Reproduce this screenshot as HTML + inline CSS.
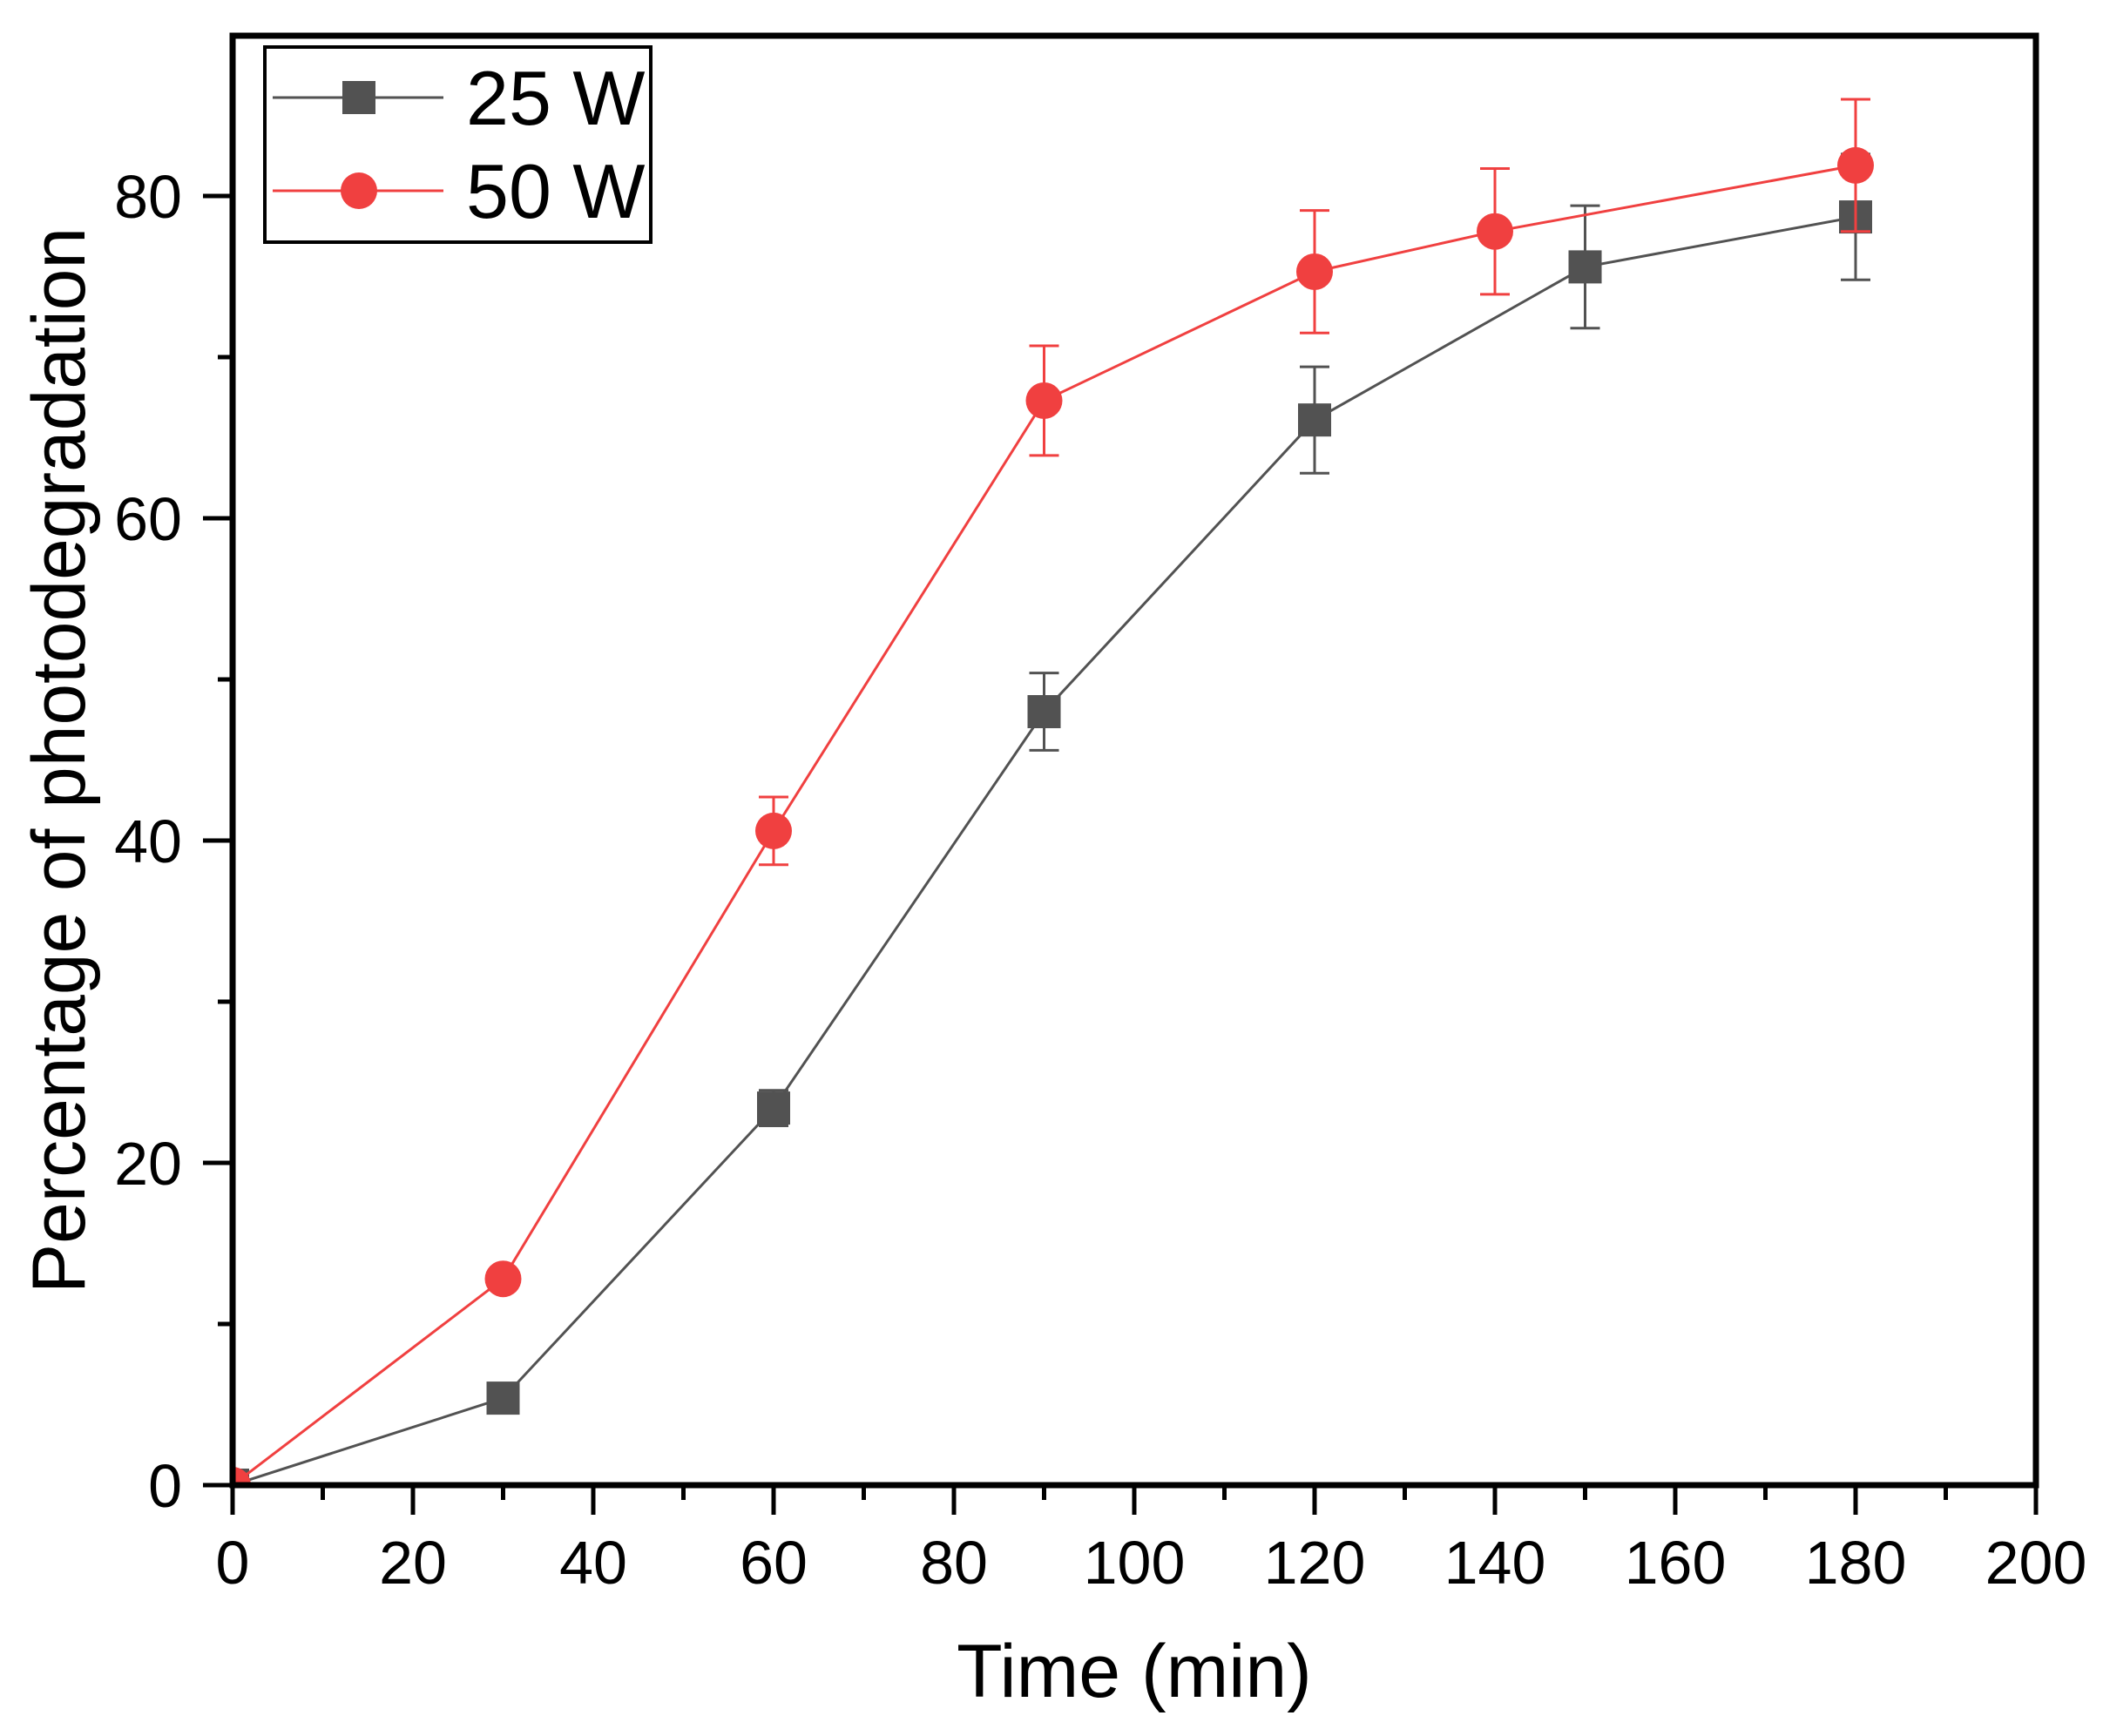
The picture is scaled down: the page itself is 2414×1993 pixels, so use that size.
<!DOCTYPE html>
<html><head><meta charset="utf-8"><style>
html,body{margin:0;padding:0;background:#fff}
svg{display:block}
text{font-family:"Liberation Sans",Arial,sans-serif;fill:#000}
</style></head><body>
<svg id="chart" width="2414" height="1993" viewBox="0 0 2414 1993" xmlns="http://www.w3.org/2000/svg">
<defs><clipPath id="plotclip"><rect x="267" y="41" width="2070" height="1664"/></clipPath></defs>
<g id="series" clip-path="url(#plotclip)"></g>
<g id="axes"></g>
<g id="legend">
  <rect x="304" y="54" width="443" height="224" fill="#fff" stroke="#000" stroke-width="4"/>
  <g>
    <line x1="313" y1="112" x2="509" y2="112" stroke="#525252" stroke-width="3"/>
    <rect x="393" y="93" width="38" height="38" fill="#525252"/>
    <text x="535" y="143" font-size="88">25 W</text>
  </g>
  <g>
    <line x1="313" y1="219" x2="509" y2="219" stroke="#F04040" stroke-width="3"/>
    <circle cx="412" cy="219" r="21" fill="#F04040"/>
    <text x="535" y="250" font-size="88">50 W</text>
  </g>
</g>
<text x="1302" y="1948" font-size="86" text-anchor="middle">Time (min)</text>
<text transform="translate(97,873) rotate(-90)" font-size="86" text-anchor="middle" textLength="1224" lengthAdjust="spacingAndGlyphs">Percentage of photodegradation</text>
</svg>
<script>
const xValues25 = [0, 30, 60, 90, 120, 150, 180];
const yValues25 = [0, 5.4, 23.4, 48.0, 66.1, 75.6, 78.7];
const err25 = [0, 0, 1.1, 2.4, 3.3, 3.8, 3.9];
const xValues50 = [0, 30, 60, 90, 120, 140, 180];
const yValues50 = [0, 12.8, 40.6, 67.3, 75.3, 77.8, 81.9];
const err50 = [0, 0, 2.1, 3.4, 3.8, 3.9, 4.1];
const xTicks = [0, 20, 40, 60, 80, 100, 120, 140, 160, 180, 200];
const yTicks = [0, 20, 40, 60, 80];

const NS = 'http://www.w3.org/2000/svg';
const X0 = 267, X1 = 2337, Y0 = 1705, YTOP = 41;
const XMAX = 200;
function sx(v){ return X0 + (X1 - X0) * v / XMAX; }
function sy(v){ return Y0 - (Y0 - 225) * v / 80; }
function mk(tag, attrs, parent){
  const e = document.createElementNS(NS, tag);
  for (const k in attrs) e.setAttribute(k, attrs[k]);
  parent.appendChild(e);
  return e;
}
const axes = document.getElementById('axes');
const series = document.getElementById('series');

const frame = mk('rect', {x:X0, y:YTOP, width:X1-X0, height:Y0-YTOP, fill:'none', stroke:'#000', 'stroke-width':7}, axes);



for (let v = 0; v <= XMAX; v += 10) {
  const major = v % 20 === 0;
  const t = mk('line', {x1:sx(v), x2:sx(v), y1:Y0, y2:Y0 + (major ? 34 : 17), stroke:'#000', 'stroke-width':5}, axes);
  
  
}
xTicks.forEach(v => {
  const t = mk('text', {x:sx(v), y:1818, 'font-size':70, 'text-anchor':'middle'}, axes);
  t.textContent = v;
  
  
});
for (let v = 0; v <= 80; v += 10) {
  const major = v % 20 === 0;
  const t = mk('line', {x1:X0 - (major ? 34 : 17), x2:X0, y1:sy(v), y2:sy(v), stroke:'#000', 'stroke-width':5}, axes);
  
  
}
yTicks.forEach(v => {
  const t = mk('text', {x:209, y:sy(v) + 25, 'font-size':70, 'text-anchor':'end'}, axes);
  t.textContent = v;
  
  
});

function drawSeries(xs, ys, es, color, shape, name){
  const g = mk('g', {}, series);
  
  
  const pts = xs.map((x, i) => sx(x) + ',' + sy(ys[i])).join(' ');
  const pl = mk('polyline', {points:pts, fill:'none', stroke:color, 'stroke-width':3}, g);
  
  
  xs.forEach((x, i) => {
    const cx = sx(x), cy = sy(ys[i]);
    if (es[i] > 0) {
      const top = sy(ys[i] + es[i]), bot = sy(ys[i] - es[i]);
      const eb = mk('path', {d:`M${cx},${top}V${bot}M${cx-17},${top}H${cx+17}M${cx-17},${bot}H${cx+17}`, stroke:color, 'stroke-width':3, fill:'none'}, g);
      
      
    }
    let m;
    if (shape === 'square') m = mk('rect', {x:cx-19, y:cy-19, width:38, height:38, fill:color}, g);
    else m = mk('circle', {cx:cx, cy:cy, r:21, fill:color}, g);
    
    
  });
}
drawSeries(xValues25, yValues25, err25, '#525252', 'square', 'series-25w');
drawSeries(xValues50, yValues50, err50, '#F04040', 'circle', 'series-50w');
</script>
</body></html>
